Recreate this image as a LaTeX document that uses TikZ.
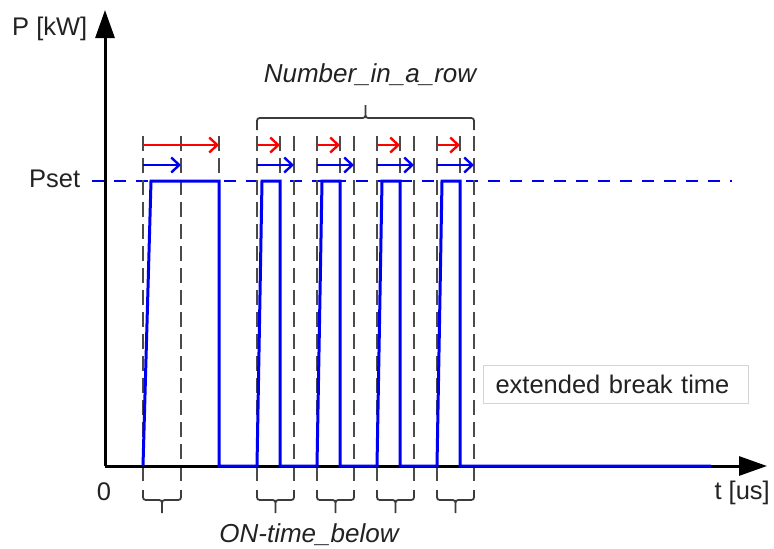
\documentclass[tikz,border=0pt]{standalone}
\usepackage{fontspec}
\setmainfont{Liberation Sans}
\usetikzlibrary{arrows.meta}

\definecolor{guidegray}{HTML}{4A4A4A}
\definecolor{bracegray}{HTML}{3C3C3C}
\definecolor{pulseblue}{HTML}{0000F0}
\definecolor{ontimered}{HTML}{FF0000}
\definecolor{boxgray}{HTML}{D4D4D4}
\definecolor{textgray}{HTML}{222222}

% bottom brace between two x positions
\newcommand\lowbrace[2]{%
  \pgfmathsetmacro\bm{(#1+#2)/2}%
  \draw[brace] (#1,490) -- (#1,494) .. controls (#1,500) .. ({#1+6},500)
    -- ({\bm-6},500) .. controls (\bm,500) .. (\bm,506) -- (\bm,513)
    (\bm,513) -- (\bm,506) .. controls (\bm,500) .. ({\bm+6},500)
    -- ({#2-6},500) .. controls (#2,500) .. (#2,494) -- (#2,490);}

\begin{document}
\begin{tikzpicture}[x=1pt,y=-1pt,
  axis/.style={draw=black, line width=3pt, -{Triangle[length=28pt,width=19pt]}},
  guide/.style={draw=guidegray, line width=2.2pt, dash pattern=on 15pt off 7pt},
  brace/.style={draw=bracegray, line width=1.8pt},
  psetline/.style={draw=pulseblue, line width=1.8pt, dash pattern=on 12pt off 10pt},
  pulse/.style={draw=pulseblue, line width=3pt, line join=miter},
  ontime/.style={draw=ontimered, line width=2.4pt, -{Straight Barb[length=8pt,width=15pt,line width=2.4pt]}},
  belowtime/.style={draw=pulseblue, line width=2.4pt, -{Straight Barb[length=8pt,width=15pt,line width=2.4pt]}},
  lbl/.style={font=\fontsize{25.5}{30}\selectfont, text=textgray, inner sep=0pt},
  ilbl/.style={lbl, font=\fontsize{26}{30}\selectfont\itshape},
  notebox/.style={lbl, draw=boxgray, line width=1pt, fill=white, minimum width=265pt, minimum height=38pt, text width=241pt, align=left, inner xsep=12pt},
]
\useasboundingbox (0,0) rectangle (774,549);

% reference levels
\def\base{466}
\def\pset{181}

% axes
\coordinate (origin) at (105,\base);
\coordinate (ytip) at (105,10);
\coordinate (xtip) at (767,\base);
\coordinate (psetL) at (92,\pset);
\coordinate (psetR) at (732,\pset);

% Pset level
\draw[psetline] (psetL) -- (psetR);

% first (long) pulse: guides and bottom brace
\coordinate (g1t) at (143,136);  \coordinate (g1b) at (143,487);
\coordinate (g2t) at (181,136);  \coordinate (g2b) at (181,487);
\coordinate (g3t) at (219,136);  \coordinate (g3b) at (219,173);
\draw[guide] (g1t) -- (g1b);
\draw[guide] (g2t) -- (g2b);
\draw[guide] (g3t) -- (g3b);
\lowbrace{143}{181}

% short pulses: start s, end of on-time s+23, end of threshold s+37
\foreach \s in {257,317,377,437}{
  \pgfmathsetmacro\m{\s+23}
  \pgfmathsetmacro\e{\s+37}
  \draw[guide] (\s,136) -- (\s,487);
  \draw[guide] (\m,136) -- (\m,173);
  \draw[guide] (\e,136) -- (\e,487);
  \lowbrace{\s}{\e}
}

% top brace over the pulses in a row
\draw[brace] (257,130) -- (257,124) .. controls (257,118) .. (263,118)
  -- (359.5,118) .. controls (365.5,118) .. (365.5,112) -- (365.5,105)
  (365.5,105) -- (365.5,112) .. controls (365.5,118) .. (371.5,118)
  -- (468,118) .. controls (474,118) .. (474,124) -- (474,130);

% axes
\draw[axis] (origin) -- (ytip);
\draw[axis] (origin) -- (xtip);

% power curve
\draw[pulse] (143,\base) -- (151,\pset) -- (219,\pset) -- (219,\base)
  -- (257,\base) -- (262,\pset) -- (280,\pset) -- (280,\base)
  -- (317,\base) -- (322,\pset) -- (340,\pset) -- (340,\base)
  -- (377,\base) -- (382,\pset) -- (400,\pset) -- (400,\base)
  -- (437,\base) -- (442,\pset) -- (460,\pset) -- (460,\base)
  -- (711,\base);

% on-time (red) and ON-time_below (blue) arrows
\draw[ontime] (143,145) -- (219,145);
\draw[belowtime] (143,165) -- (181,165);
\foreach \s in {257,317,377,437}{
  \pgfmathsetmacro\m{\s+23}
  \pgfmathsetmacro\e{\s+37}
  \draw[ontime] (\s,145) -- (\m,145);
  \draw[belowtime] (\s,165) -- (\e,165);
}

% labels
\node[lbl, anchor=base west] (ylabel) at (12,35) {P [kW]};
\node[lbl, anchor=base west] (psetlabel) at (29,187) {Pset};
\node[lbl, anchor=base] (zero) at (104,500) {0};
\node[lbl, anchor=base east] (xlabel) at (770,499) {t [us]};
\node[ilbl, anchor=base] (rowlabel) at (370,82) {Number\_in\_a\_row};
\node[ilbl, anchor=base] (belowlabel) at (309,542) {ON-time\_below};
\node[notebox, anchor=west] (breaklabel) at (483,384) {extended break time};
\end{tikzpicture}
\end{document}
